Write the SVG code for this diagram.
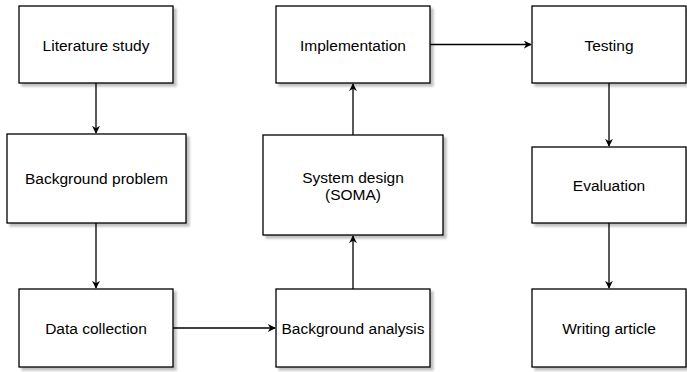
<svg xmlns="http://www.w3.org/2000/svg" width="687" height="372" viewBox="0 0 687 372">
<defs>
<filter id="sh" x="-10%" y="-10%" width="130%" height="130%">
<feGaussianBlur in="SourceAlpha" stdDeviation="1.2"/>
<feOffset dx="3" dy="3" result="b"/>
<feComponentTransfer><feFuncA type="linear" slope="0.25"/></feComponentTransfer>
<feMerge><feMergeNode/><feMergeNode in="SourceGraphic"/></feMerge>
</filter>
<marker id="ah" viewBox="0 0 10 10" refX="9" refY="5" markerWidth="8" markerHeight="8" markerUnits="userSpaceOnUse" orient="auto">
<path d="M0,0 L10,5 L0,10 L3,5 Z" fill="#000"/>
</marker>
</defs>
<style>
.box{fill:#fff;stroke:#000;stroke-width:1.3;filter:url(#sh)}
.lbl{font-family:"Liberation Sans",Arial,sans-serif;font-size:15.5px;fill:#000;text-anchor:middle}
.edge{fill:none;stroke:#000;stroke-width:1.3;marker-end:url(#ah)}
</style>
<rect width="687" height="372" fill="#fff"/>
<g id="connectors">
<path class="edge" d="M96,83 V133"/>
<path class="edge" d="M96,223 V288"/>
<path class="edge" d="M173,328 H275"/>
<path class="edge" d="M353,289 V236"/>
<path class="edge" d="M353,135 V84"/>
<path class="edge" d="M430,44.5 H531"/>
<path class="edge" d="M609,83 V146"/>
<path class="edge" d="M609,223 V288"/>
</g>
<g id="literature-study"><rect class="box" x="19" y="6" width="154" height="77"/><text class="lbl" x="96" y="50.5">Literature study</text></g>
<g id="background-problem"><rect class="box" x="7" y="134" width="179" height="89"/><text class="lbl" x="96.5" y="184">Background problem</text></g>
<g id="data-collection"><rect class="box" x="19" y="289" width="154" height="78"/><text class="lbl" x="96" y="333.5">Data collection</text></g>
<g id="background-analysis"><rect class="box" x="276" y="289" width="154" height="78"/><text class="lbl" x="353" y="333.5">Background analysis</text></g>
<g id="system-design"><rect class="box" x="263" y="135" width="180" height="100"/><text class="lbl" x="353" y="183">System design</text><text class="lbl" x="353" y="200">(SOMA)</text></g>
<g id="implementation"><rect class="box" x="276" y="6" width="154" height="77"/><text class="lbl" x="353" y="50.5">Implementation</text></g>
<g id="testing"><rect class="box" x="532" y="6" width="154" height="77"/><text class="lbl" x="609" y="50.5">Testing</text></g>
<g id="evaluation"><rect class="box" x="532" y="147" width="154" height="76"/><text class="lbl" x="609" y="190.5">Evaluation</text></g>
<g id="writing-article"><rect class="box" x="532" y="289" width="154" height="78"/><text class="lbl" x="609" y="333.5">Writing article</text></g>
</svg>
